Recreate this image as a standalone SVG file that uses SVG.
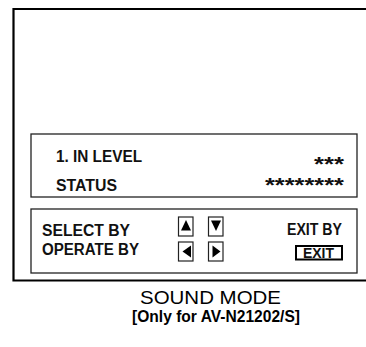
<svg xmlns="http://www.w3.org/2000/svg" width="366" height="347" viewBox="0 0 366 347">
<style>
.b{font-family:"Liberation Sans",Arial,sans-serif;font-weight:bold;font-size:16px;fill:#111}
.ast{font-family:"Liberation Sans",Arial,sans-serif;font-weight:bold;font-size:21px;fill:#111}
.box{fill:none;stroke:#222;stroke-width:1.3}
.key{fill:#fff;stroke:#222;stroke-width:1.2}
.tri{fill:#000}
.cap{font-family:"Liberation Sans",Arial,sans-serif;fill:#000}
</style>
<rect width="366" height="347" fill="#fff"/>
<g id="frame">
<path d="M366 9 H13.5 V280.5 H366" fill="none" stroke="#000" stroke-width="2.2"/>
</g>
<g id="level-panel">
<rect class="box" x="31" y="134" width="326" height="63"/>
<text class="b" x="56" y="162" textLength="86" lengthAdjust="spacingAndGlyphs">1. IN LEVEL</text>
<text class="b" x="56" y="190.5" textLength="61" lengthAdjust="spacingAndGlyphs">STATUS</text>
<text class="ast" x="314" y="170.5" textLength="30" lengthAdjust="spacingAndGlyphs">***</text>
<text class="ast" x="265" y="191.5" textLength="79" lengthAdjust="spacingAndGlyphs">********</text>
</g>
<g id="help-panel">
<rect class="box" x="31" y="209" width="326" height="64"/>
<text class="b" x="42" y="235.5" textLength="88" lengthAdjust="spacingAndGlyphs">SELECT  BY</text>
<text class="b" x="42" y="255" textLength="97" lengthAdjust="spacingAndGlyphs">OPERATE BY</text>
<text class="b" x="287" y="234.5" textLength="55" lengthAdjust="spacingAndGlyphs">EXIT BY</text>
</g>
<g id="key-up">
<rect class="key" x="178.5" y="217" width="14.5" height="19"/>
<polygon class="tri" points="186,220 181,230.5 191,230.5"/>
</g>
<g id="key-down">
<rect class="key" x="208.5" y="217" width="14.5" height="19"/>
<polygon class="tri" points="216,231 211,220.5 221,220.5"/>
</g>
<g id="key-left">
<rect class="key" x="178.5" y="242" width="14.5" height="19"/>
<polygon class="tri" points="182.5,251.5 191,245.5 191,257.5"/>
</g>
<g id="key-right">
<rect class="key" x="208.5" y="242" width="14.5" height="19"/>
<polygon class="tri" points="220.5,251.5 212.5,245.5 212.5,257.5"/>
</g>
<g id="key-exit">
<rect x="296" y="246" width="46" height="13.5" fill="#fff" stroke="#000" stroke-width="2"/>
<text class="b" x="303" y="257.5" style="font-size:14px" textLength="31" lengthAdjust="spacingAndGlyphs">EXIT</text>
</g>
<g id="caption">
<text class="cap" x="140" y="304" font-size="19" textLength="141" lengthAdjust="spacingAndGlyphs">SOUND MODE</text>
<text class="cap" x="132" y="322" font-size="16.5" font-weight="bold" textLength="168" lengthAdjust="spacingAndGlyphs">[Only for AV-N21202/S]</text>
</g>
</svg>
